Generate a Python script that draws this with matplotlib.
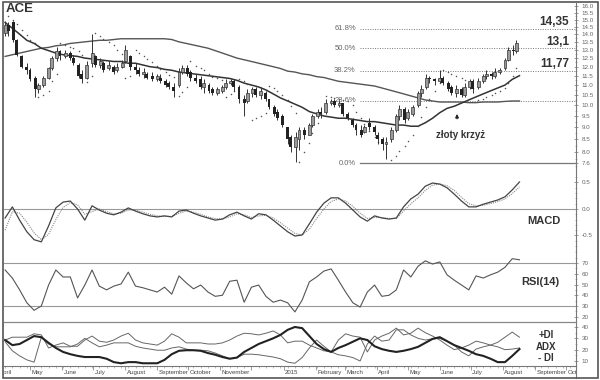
import numpy as np
import pandas as pd
import matplotlib
matplotlib.use("Agg")
import matplotlib.pyplot as plt
import matplotlib.dates as mdates
from matplotlib.patches import Rectangle
from matplotlib.ticker import FixedLocator, MultipleLocator, NullFormatter
from matplotlib.transforms import blended_transform_factory

plt.rcParams["font.family"] = ["Liberation Sans", "DejaVu Sans"]

W, H = 600, 380

# ---- price candles, one every third session ----
candle_start = "2014-04-07"
opens = [14.1, 14.6, 14.8, 13.6, 12.6, 12.0, 11.8, 11.4, 10.8, 11.0,
         11.4, 11.9, 12.5, 12.9, 12.6, 12.8, 12.5, 12.1, 11.6, 11.4,
         12.2, 12.6, 12.1, 12.2, 11.9, 12.0, 11.8, 12.0, 12.3, 12.6,
         12.0, 11.8, 11.6, 11.6, 11.5, 11.3, 11.4, 11.2, 11.1, 10.9,
         11.0, 11.7, 11.9, 11.7, 11.4, 11.3, 10.9, 11.0, 10.8, 10.6,
         10.7, 10.9, 11.1, 11.2, 10.9, 10.3, 10.2, 10.6, 10.8, 10.5,
         10.6, 10.3, 9.9, 9.7, 9.5, 9.0, 8.6, 8.2, 8.5, 8.9,
         8.7, 9.1, 9.5, 9.7, 9.7, 10.1, 10.2, 10.0, 10.1, 9.6,
         9.3, 9.1, 8.9, 8.8, 9.2, 9.0, 8.7, 8.5, 8.3, 8.5,
         8.9, 9.5, 9.8, 9.4, 9.6, 10.0, 10.6, 10.9, 11.4, 11.3,
         11.2, 11.4, 11.1, 10.9, 10.6, 10.8, 10.5, 10.9, 11.2, 10.9,
         11.2, 11.5, 11.6, 11.5, 11.7, 11.9, 12.4, 13.0, 12.9]
closes = [14.6, 14.2, 13.6, 12.7, 12.0, 11.8, 11.3, 10.8, 11.0, 11.4,
          11.9, 12.5, 12.9, 12.6, 12.8, 12.5, 12.2, 11.5, 11.3, 12.1,
          12.8, 12.1, 12.3, 11.8, 12.1, 11.7, 12.0, 12.2, 13.0, 12.0,
          11.8, 11.6, 11.7, 11.4, 11.3, 11.5, 11.2, 11.0, 10.9, 10.7,
          11.7, 11.9, 11.6, 11.4, 11.2, 10.9, 11.1, 10.7, 10.6, 10.8,
          10.9, 11.1, 11.2, 10.9, 10.3, 10.1, 10.6, 10.8, 10.5, 10.7,
          10.3, 9.9, 9.6, 9.4, 9.1, 8.5, 8.2, 8.6, 8.9, 8.7,
          9.1, 9.5, 9.7, 9.6, 10.1, 10.2, 10.0, 10.1, 9.6, 9.4,
          9.1, 8.9, 8.7, 9.0, 9.0, 8.8, 8.5, 8.3, 8.4, 8.9,
          9.5, 9.8, 9.3, 9.7, 9.9, 10.6, 10.8, 11.4, 11.3, 11.2,
          11.4, 11.1, 10.8, 10.6, 10.8, 10.5, 10.9, 11.2, 10.8, 11.2,
          11.5, 11.6, 11.5, 11.7, 11.8, 12.4, 13.0, 12.9, 13.4]
highs = [14.9, 14.8, 14.9, 13.7, 12.7, 12.2, 11.9, 11.5, 11.1, 11.5,
         12.0, 12.6, 13.2, 13.0, 13.0, 12.9, 12.7, 12.2, 11.8, 12.3,
         14.0, 12.7, 12.5, 12.3, 12.3, 12.1, 12.2, 12.4, 13.3, 12.7,
         12.2, 12.0, 11.9, 11.7, 11.7, 11.6, 11.6, 11.3, 11.2, 11.1,
         11.9, 12.1, 12.1, 11.8, 11.6, 11.5, 11.3, 11.1, 10.9, 10.9,
         11.0, 11.3, 11.3, 11.3, 11.0, 10.5, 10.8, 10.9, 10.9, 10.9,
         10.7, 10.3, 10.0, 9.8, 9.6, 9.0, 8.7, 8.8, 9.0, 9.0,
         9.2, 9.6, 9.8, 9.9, 10.3, 10.3, 10.3, 10.25, 10.1, 9.7,
         9.4, 9.2, 9.1, 9.1, 9.4, 9.1, 8.8, 8.6, 8.6, 9.0,
         9.6, 10.0, 9.9, 9.8, 10.0, 10.7, 11.0, 11.6, 11.5, 11.4,
         11.8, 11.5, 11.2, 11.0, 11.0, 10.9, 11.1, 11.3, 11.3, 11.4,
         11.6, 11.8, 11.7, 11.9, 11.9, 12.5, 13.2, 13.3, 13.6]
lows = [13.9, 13.9, 13.5, 12.6, 11.9, 11.6, 11.2, 10.4, 10.6, 10.9,
        11.3, 11.8, 12.3, 12.4, 12.5, 12.4, 12.1, 11.4, 11.1, 11.3,
        12.0, 12.0, 11.9, 11.7, 11.8, 11.6, 11.7, 11.9, 12.2, 11.8,
        11.6, 11.5, 11.4, 11.3, 11.2, 11.2, 11.1, 10.9, 10.8, 10.4,
        10.9, 11.6, 11.5, 11.2, 11.1, 10.8, 10.6, 10.6, 10.5, 10.5,
        10.6, 10.8, 11.0, 10.7, 10.1, 9.5, 10.1, 10.4, 10.4, 10.3,
        10.2, 9.8, 9.5, 9.3, 9.0, 8.3, 8.0, 7.65, 8.1, 8.5,
        8.7, 9.0, 9.4, 9.4, 9.6, 10.0, 9.9, 9.9, 9.5, 9.3,
        9.0, 8.7, 8.6, 8.75, 8.9, 8.7, 8.3, 8.1, 7.75, 8.4,
        8.8, 9.3, 9.2, 9.3, 9.5, 9.9, 10.4, 10.8, 11.1, 11.0,
        11.1, 11.0, 10.7, 10.5, 10.4, 10.4, 10.4, 10.8, 10.6, 10.8,
        11.1, 11.3, 11.3, 11.4, 11.6, 11.8, 12.3, 12.7, 12.8]
# parabolic SAR on the same sessions (None = no dot)
sar = [None, 15.25, 15.0, 14.7, 14.3, 13.95, 13.65, 13.4, 10.4, 10.5,
       10.7, 11.2, 11.6, 13.4, 13.3, 13.2, 13.1, 12.95, 12.7, 11.15,
       11.5, 14.1, 13.9, 13.7, 13.5, 13.3, 13.0, 12.75, 11.4, 11.5,
       13.0, 12.8, 12.6, 12.45, 12.25, 12.05, 11.85, 11.7, 11.55, 11.45,
       10.45, 10.65, 10.9, 12.3, 12.05, 11.9, 11.8, 11.6, 11.45, 11.35,
       11.25, 10.4, 10.55, 10.7, 11.3, 11.2, 11.05, 9.3, 9.4, 9.5,
       9.65, 10.95, 10.85, 10.7, 10.5, 10.25, 9.95, 9.65, 7.65, 8.0,
       8.35, 8.75, 9.2, 9.55, 10.45, 10.4, 10.35, 10.3, 10.25, 10.2,
       10.0, 9.7, 9.4, 9.15, 8.85, 8.6, 8.4, None, None, 7.7,
       7.85, 8.05, 8.25, 8.45, 8.7, 9.05, 9.45, 9.9, 10.3, 10.7,
       11.1, 11.8, 11.7, 11.6, 11.5, 11.4, 11.25, 11.0, 10.85, 10.25,
       10.3, 10.4, 10.5, 10.6, 10.7, 10.85, 11.1, 11.5, 11.95]

# ---- indicator lines, read once a week (Mondays) ----
week_start = "2014-04-07"
ma_short = [14.8, 14.4, 14.0, 13.6, 13.4, 13.1, 12.95, 12.8, 12.7, 12.65,
            12.6, 12.5, 12.45, 12.4, 12.35, 12.3, 12.3, 12.2, 12.2, 12.1,
            12.0, 11.95, 11.85, 11.8, 11.7, 11.65, 11.6, 11.55, 11.5, 11.45,
            11.4, 11.35, 11.25, 11.1, 11.0, 10.9, 10.75, 10.55, 10.35, 10.2,
            10.05, 9.9, 9.7, 9.6, 9.5, 9.45, 9.4, 9.4, 9.35, 9.3,
            9.25, 9.25, 9.2, 9.15, 9.1, 9.1, 9.05, 9.05, 9.2, 9.4,
            9.65, 9.85, 9.95, 10.1, 10.25, 10.4, 10.55, 10.7, 10.85, 11.0,
            11.3, 11.5]
ma_long = [12.6, 12.7, 12.8, 12.9, 13.0, 13.1, 13.15, 13.25, 13.3, 13.4,
           13.45, 13.5, 13.55, 13.6, 13.6, 13.65, 13.7, 13.7, 13.7, 13.7,
           13.7, 13.7, 13.7, 13.65, 13.5, 13.4, 13.3, 13.2, 13.1, 12.95,
           12.8, 12.65, 12.5, 12.4, 12.3, 12.2, 12.1, 12.0, 11.9, 11.75,
           11.7, 11.6, 11.55, 11.45, 11.4, 11.3, 11.2, 11.15, 11.1, 11.05,
           11.0, 10.95, 10.85, 10.75, 10.65, 10.55, 10.45, 10.35, 10.25, 10.2,
           10.15, 10.15, 10.15, 10.15, 10.12, 10.12, 10.15, 10.15, 10.15, 10.18,
           10.2, 10.2]
macd = [-0.17, 0.04, -0.21, -0.43, -0.58, -0.62, -0.32, 0.02, 0.13, 0.15,
        0.0, -0.21, 0.06, -0.02, -0.08, -0.11, -0.06, 0.02, -0.04, -0.09,
        -0.13, -0.15, -0.13, -0.15, -0.04, -0.02, -0.08, -0.13, -0.17, -0.21,
        -0.19, -0.11, -0.06, -0.13, -0.19, -0.09, -0.11, -0.21, -0.32, -0.43,
        -0.51, -0.49, -0.28, -0.06, 0.11, 0.21, 0.21, 0.11, -0.02, -0.15,
        -0.23, -0.13, -0.17, -0.19, -0.17, 0.04, 0.19, 0.28, 0.43, 0.49,
        0.47, 0.40, 0.28, 0.15, 0.04, 0.04, 0.09, 0.13, 0.17, 0.23,
        0.36, 0.51]
macd_signal = [-0.40, -0.05, -0.08, -0.25, -0.45, -0.58, -0.48, -0.20, 0.03, 0.12,
               0.08, -0.10, -0.05, 0.0, -0.05, -0.09, -0.08, -0.02, -0.02, -0.06,
               -0.10, -0.13, -0.14, -0.14, -0.08, -0.04, -0.06, -0.10, -0.15, -0.18,
               -0.19, -0.15, -0.09, -0.11, -0.16, -0.13, -0.12, -0.17, -0.26, -0.36,
               -0.46, -0.49, -0.38, -0.18, 0.0, 0.14, 0.19, 0.15, 0.05, -0.08,
               -0.18, -0.16, -0.16, -0.18, -0.18, -0.04, 0.10, 0.21, 0.35, 0.45,
               0.47, 0.44, 0.35, 0.22, 0.10, 0.06, 0.07, 0.10, 0.14, 0.19,
               0.29, 0.42]
rsi = [63.5, 56, 45, 33, 26, 30, 49.5, 63.5, 57, 57,
       37.5, 49.5, 63.5, 48.5, 45, 48.5, 50.5, 61.5, 48.5, 47,
       45, 43, 47.5, 41, 58, 51.5, 46, 49.5, 43, 39,
       40, 53, 54, 33.5, 47.5, 49.5, 39, 33.5, 35.5, 33,
       24.5, 35.5, 52.5, 57, 62.5, 64.5, 54, 43, 33, 29,
       43, 49.5, 39, 40, 45, 63.5, 57, 67, 72, 69,
       71, 59, 54, 49.5, 45, 58, 56, 59, 61.5, 66,
       74, 73]
adx = [28.5, 24, 25, 28.5, 32, 31, 26, 21.5, 18, 16,
       14.5, 13.5, 13.5, 13.5, 12, 9, 8, 9, 9, 8,
       8, 8, 11, 16, 19, 19.5, 19.5, 19, 17, 15.5,
       13.5, 12, 13, 18, 21.5, 25, 27.5, 30, 33, 37.5,
       40, 39, 32, 25, 20.5, 18, 21.5, 24, 27, 30,
       28.5, 23, 20.5, 19, 18, 19, 20.5, 22.5, 26, 29.5,
       31, 27.5, 24, 21.5, 19, 16, 14.5, 12, 9, 9,
       14.5, 20.5]
di_minus = [28.5, 31, 31, 31, 34, 33, 21.5, 24, 26, 23,
            23, 28.5, 32, 27.5, 26.5, 28.5, 32, 34.5, 28.5, 26,
            25, 24, 27.5, 34, 31, 26, 26, 26, 25, 25,
            26, 28.5, 32, 34.5, 34, 33, 34.5, 36.5, 33, 26,
            27.5, 27.5, 24, 21.5, 19, 18, 28.5, 34, 32, 31,
            18, 28.5, 32, 34.5, 39, 33, 34.5, 39, 35, 32,
            28.5, 24, 20, 21.5, 24, 27.5, 26, 24, 26.5, 31,
            35.5, 31]
di_plus = [27, 19, 14.5, 11, 9, 31, 25, 22.5, 22.5, 22.5,
           25, 30, 26, 22.5, 24, 26, 26, 26, 23, 21.5,
           20.5, 19.5, 19.5, 21.5, 22.5, 20.5, 19.5, 19.5, 19, 17,
           14.5, 12, 13, 16, 16, 15.5, 14.5, 13.5, 12, 9,
           8, 13, 21.5, 28.5, 23, 18, 15.5, 14.5, 13, 10,
           25, 32, 27.5, 28.5, 37.5, 37.5, 33, 30, 28.5, 29.5,
           30, 27.5, 24, 18, 14.5, 20.5, 22.5, 24, 22.5, 20,
           20.5, 21.5]

# ---- fibonacci levels and labels ----
fib_pct = ["61.8%", "50.0%", "38.2%", "23.6%", "0.0%"]
fib_price = [14.35, 13.1, 11.77, 10.2, 7.6]
fib_marks = ["14,35", "13,1", "11,77"]

price_ticks = [16.0, 15.5, 15.0, 14.5, 14.0, 13.5, 13.0, 12.5, 12.0, 11.5,
               11.0, 10.5, 10.0, 9.5, 9.0, 8.5, 8.0, 7.6]
macd_ticks = [0.5, 0.0, -0.5]
rsi_ticks = [70, 60, 50, 40, 30, 20]
dmi_ticks = [40, 30, 20, 10]

month_labels = ["April", "May", "June", "July", "August", "September", "October",
                "November", "", "2015", "February", "March", "April", "May", "June",
                "July", "August", "September", "October"]


def px_rect(x0, y0, x1, y1):
    return [x0 / W, 1 - y1 / H, (x1 - x0) / W, (y1 - y0) / H]


def style_panel(ax, ylim, ticks, labels, minor):
    ax.set_xlim(x_left, x_right)
    ax.set_ylim(*ylim)
    for s in ("left", "top", "bottom"):
        ax.spines[s].set_visible(False)
    ax.spines["right"].set_color("#777777")
    ax.spines["right"].set_linewidth(0.8)
    ax.set_xticks([])
    ax.yaxis.tick_right()
    ax.set_yticks(ticks)
    ax.set_yticklabels(labels)
    ax.yaxis.set_minor_locator(minor)
    ax.yaxis.set_minor_formatter(NullFormatter())
    ax.tick_params(axis="y", which="major", direction="inout", length=3, width=0.5,
                   color="#777777", labelsize=4.5, labelcolor="#666666", pad=2.5)
    ax.tick_params(axis="y", which="minor", direction="inout", length=1.6, width=0.4,
                   color="#888888")
    ax.patch.set_alpha(0)


x_left = mdates.date2num(pd.Timestamp("2014-04-05 22:00").to_pydatetime())
x_right = x_left + 552.7

candle_dates = pd.bdate_range(candle_start, periods=len(closes), freq="3B")
week_dates = pd.date_range(week_start, periods=len(macd), freq="W-MON")
xc = mdates.date2num(candle_dates.to_pydatetime())
xw = mdates.date2num(week_dates.to_pydatetime())

fig = plt.figure(figsize=(W / 100, H / 100), dpi=100)

# ---------- price ----------
ax = fig.add_axes(px_rect(4, 3, 576, 172))
ax.set_yscale("log")
style_panel(ax, (7.285, 16.23), price_ticks, ["%.1f" % t for t in price_ticks],
            FixedLocator(np.arange(7.5, 16.3, 0.25)))

o, c, h, l = (np.array(v) for v in (opens, closes, highs, lows))
up = c >= o
lo = np.minimum(o, c)
bh = np.maximum(np.abs(c - o), 0.05)
ax.vlines(xc, l, h, color="#333333", lw=0.7, zorder=3)
ax.bar(xc[up], bh[up], bottom=lo[up], width=2.8, facecolor="#9a9a9a",
       edgecolor="#333333", lw=0.5, zorder=4)
ax.bar(xc[~up], bh[~up], bottom=lo[~up], width=2.8, color="#222222", lw=0, zorder=4)

ax.plot(xw, ma_long, color="#555555", lw=1.0, zorder=2)
ax.plot(xw, ma_short, color="#333333", lw=1.1, zorder=2)
sar_arr = np.array([np.nan if v is None else v for v in sar])
ax.plot(xc, sar_arr, ls="none", marker="o", ms=1.1, mew=0, color="#555555", zorder=2)

tr = blended_transform_factory(ax.transAxes, ax.transData)
for lbl, p in zip(fib_pct, fib_price):
    solid = lbl == "0.0%"
    ax.axhline(p, xmin=0.623, xmax=1, color="#777777", lw=0.9 if solid else 0.7,
               ls="-" if solid else (0, (1, 1.5)), zorder=1)
    ax.text(0.615, p, lbl, transform=tr, ha="right", va="center", fontsize=5.5,
            color="#666666")
for lbl, p in zip(fib_marks, fib_price[:3]):
    ax.annotate(lbl, xy=(0.988, p), xycoords=tr, xytext=(0, 0.5),
                textcoords="offset points", ha="right", va="bottom", fontsize=8.5,
                fontweight="bold", color="#333333")

ax.text(0.799, 8.68, "złoty krzyż", transform=tr, ha="center", va="center",
        fontsize=7, fontweight="bold", color="#333333")
ax.annotate("", xy=(0.792, 9.72), xycoords=tr, xytext=(0.792, 9.25), textcoords=tr,
            arrowprops=dict(arrowstyle="-|>", color="#222222", lw=0.8, mutation_scale=5))

# ---------- MACD ----------
ax_m = fig.add_axes(px_rect(4, 172, 576, 250))
style_panel(ax_m, (-0.774, 0.698), macd_ticks, ["0.5", "0.0", "-0.5"], MultipleLocator(0.1))
ax_m.axhline(0, color="#999999", lw=0.8)
ax_m.plot(xw, macd_signal, color="#888888", lw=0.8, ls=(0, (1, 1)))
ax_m.plot(xw, macd, color="#444444", lw=0.9)
ax_m.text(0.944, -0.226, "MACD", transform=blended_transform_factory(ax_m.transAxes, ax_m.transData),
          ha="center", va="center", fontsize=8, fontweight="bold", color="#333333")

# ---------- RSI ----------
ax_r = fig.add_axes(px_rect(4, 250, 576, 322))
style_panel(ax_r, (15.12, 82.09), rsi_ticks, [str(t) for t in rsi_ticks], MultipleLocator(5))
ax_r.axhline(70, color="#999999", lw=0.8)
ax_r.axhline(30, color="#999999", lw=0.8)
ax_r.plot(xw, rsi, color="#555555", lw=0.8)
ax_r.text(0.937, 52.3, "RSI(14)", transform=blended_transform_factory(ax_r.transAxes, ax_r.transData),
          ha="center", va="center", fontsize=8, fontweight="bold", color="#333333")

# ---------- DMI ----------
ax_d = fig.add_axes(px_rect(4, 322, 576, 366))
style_panel(ax_d, (5.58, 44.41), dmi_ticks, [str(t) for t in dmi_ticks], MultipleLocator(5))
ax_d.spines["top"].set_visible(True)
ax_d.spines["top"].set_color("#888888")
ax_d.spines["top"].set_linewidth(0.9)
ax_d.plot(xw, di_plus, color="#666666", lw=0.7)
ax_d.plot(xw, di_minus, color="#666666", lw=0.7)
ax_d.plot(xw, adx, color="#222222", lw=1.5)
trd = blended_transform_factory(ax_d.transAxes, ax_d.transData)
for lbl, yv in zip(["+DI", "ADX", "- DI"], [32.9, 22.3, 12.6]):
    ax_d.text(0.948, yv, lbl, transform=trd, ha="center", va="center", fontsize=7,
              fontweight="bold", color="#333333")

# ---------- date strip ----------
ax_t = fig.add_axes(px_rect(4, 366, 576, 378))
ax_t.set_xlim(x_left, x_right)
ax_t.set_ylim(0, 1)
ax_t.set_yticks([])
for s in ("left", "bottom"):
    ax_t.spines[s].set_visible(False)
ax_t.spines["top"].set_color("#777777")
ax_t.spines["top"].set_linewidth(0.8)
ax_t.spines["right"].set_color("#777777")
ax_t.spines["right"].set_linewidth(0.8)
ax_t.xaxis.set_ticks_position("top")
ax_t.xaxis.set_major_locator(mdates.MonthLocator())
ax_t.xaxis.set_minor_locator(mdates.WeekdayLocator(byweekday=mdates.MO))
ax_t.xaxis.set_major_formatter(NullFormatter())
ax_t.tick_params(axis="x", which="major", direction="in", length=3, width=0.5, color="#777777")
ax_t.tick_params(axis="x", which="minor", direction="in", length=1.5, width=0.4, color="#888888")
month_starts = pd.date_range("2014-04-01", periods=len(month_labels), freq="MS")
for d, lbl in zip(mdates.date2num(month_starts.to_pydatetime()), month_labels):
    if lbl:
        ax_t.text(d + 1.5, 0.42, lbl, ha="left", va="center", fontsize=4.4, color="#444444",
                  clip_on=True)

# title and outer frame
fig.text(6 / W, 1 - 9.5 / H, "ACE", fontsize=9.5, fontweight="bold", va="center",
         ha="left", color="#333333")
fig.add_artist(Rectangle((3 / W, 2 / H), 595 / W, 376 / H, transform=fig.transFigure,
                         fill=False, ec="#555555", lw=1.2))

fig.savefig("out.png", dpi=100)
